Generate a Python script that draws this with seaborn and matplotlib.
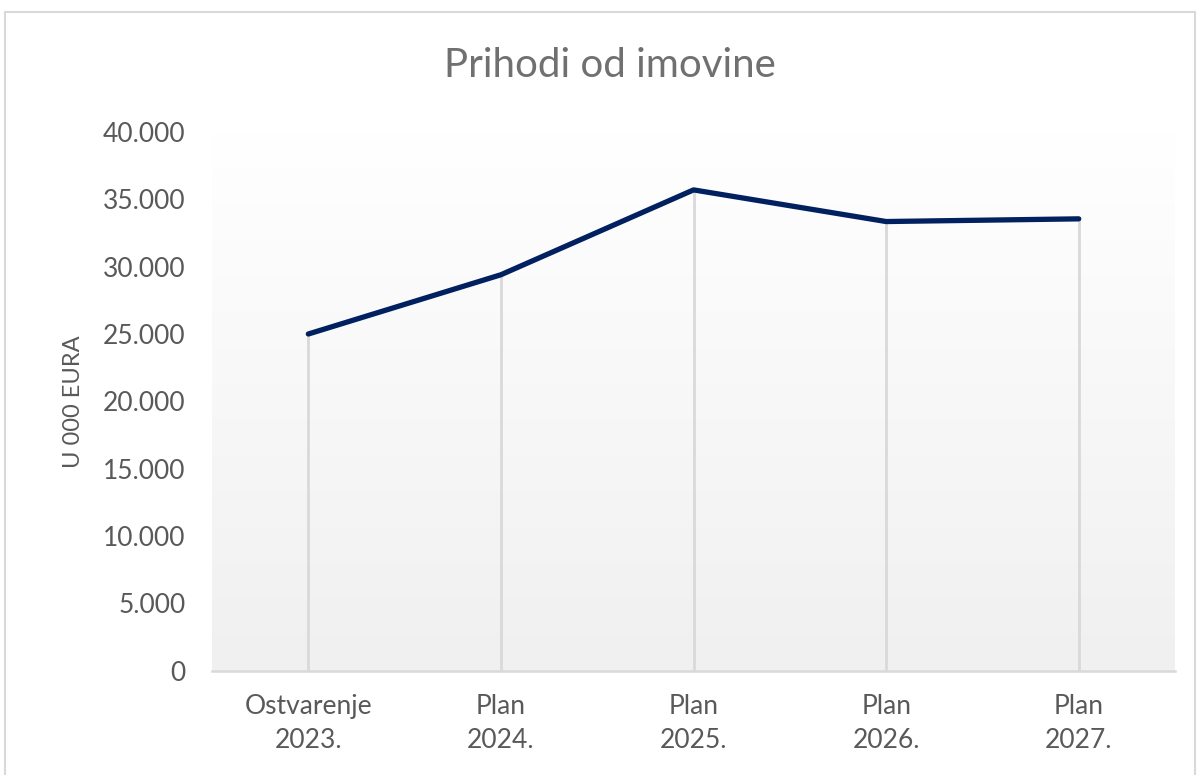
import numpy as np
import pandas as pd
import matplotlib
matplotlib.use("Agg")
import matplotlib.pyplot as plt
import seaborn as sns
from matplotlib.patches import Rectangle

# Data
kategorije = ['Ostvarenje\n2023.', 'Plan\n2024.', 'Plan\n2025.', 'Plan\n2026.', 'Plan\n2027.']
iznosi = [25000, 29400, 35700, 33350, 33550]
y_tickovi = [0, 5000, 10000, 15000, 20000, 25000, 30000, 35000, 40000]

df = pd.DataFrame({'kategorija': kategorije, 'iznos': iznosi})

sns.set_style('white')
plt.rcParams['font.family'] = ['Lato', 'DejaVu Sans']

siva = '#595959'

fig = plt.figure(figsize=(12, 7.75), dpi=100)
ax = fig.add_axes([0.1767, 0.1346, 0.8025, 0.6951])

# gradient background of plot area (white at top -> light grey at bottom)
grad = np.linspace(1, 0, 256).reshape(-1, 1)
ax.imshow(grad, extent=[0, 1, 0, 1], transform=ax.transAxes, aspect='auto',
          cmap=matplotlib.colors.LinearSegmentedColormap.from_list(
              'bg', ['#f0f0f0', '#ffffff']), zorder=0)

# drop lines from points to the axis
ax.vlines(range(len(kategorije)), 0, iznosi, color='#d9d9d9', lw=2, zorder=1)

sns.lineplot(data=df, x='kategorija', y='iznos', sort=False, color='#002060',
             lw=3.8, ax=ax, zorder=3, solid_capstyle='round')

ax.set_xlim(-0.5, len(kategorije) - 0.5)
ax.set_ylim(0, 40000)
ax.set_yticks(y_tickovi)
ax.set_yticklabels([f'{v:,}'.replace(',', '.') for v in y_tickovi])
for lbl in ax.get_xticklabels():
    lbl.set_linespacing(1.45)

for s in ['top', 'right', 'left']:
    ax.spines[s].set_visible(False)
ax.spines['bottom'].set_color('#d9d9d9')
ax.spines['bottom'].set_linewidth(1.8)
ax.tick_params(axis='y', length=0, labelsize=19, colors=siva, pad=19)
ax.tick_params(axis='x', length=0, labelsize=19, colors=siva, pad=17)
ax.set_xlabel('')
ax.set_ylabel('U 000 EURA', fontsize=17, color=siva, labelpad=14)
ax.grid(False)

fig.text(0.508, 0.915, 'Prihodi od imovine', ha='center', va='center',
         fontsize=29, color='#707070')

# outer chart border
fig.patches.append(Rectangle((0.004, -0.01), 0.992, 0.995, transform=fig.transFigure,
                             fill=False, edgecolor='#d9d9d9', lw=1.5))

fig.savefig('out.png', dpi=100)
